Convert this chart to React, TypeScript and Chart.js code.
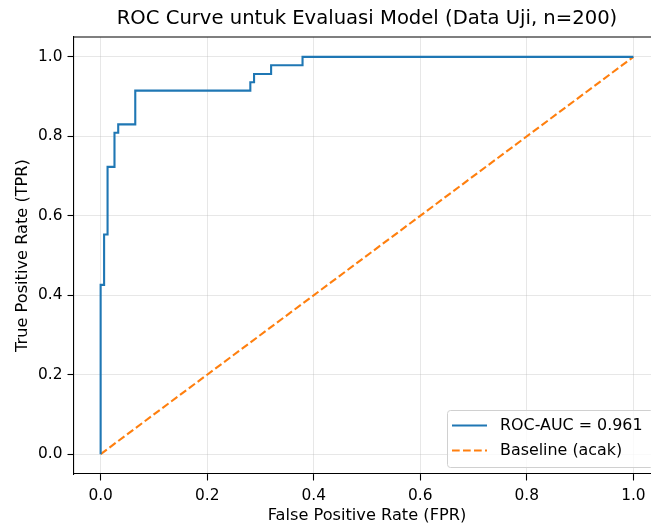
import React, { useEffect, useRef } from "react";
import { Chart, registerables } from "chart.js";

Chart.register(...registerables);

const rocFpr = [0, 0, 0.0065, 0.0065, 0.013, 0.013, 0.026, 0.026, 0.033, 0.033, 0.065, 0.065, 0.281, 0.281, 0.288, 0.288, 0.32, 0.32, 0.379, 0.379, 1.0];
const rocTpr = [0, 0.426, 0.426, 0.553, 0.553, 0.723, 0.723, 0.809, 0.809, 0.83, 0.83, 0.915, 0.915, 0.936, 0.936, 0.957, 0.957, 0.979, 0.979, 1.0, 1.0];
const baseX = [0, 1];
const baseY = [0, 1];
const tickValues = [0, 0.2, 0.4, 0.6, 0.8, 1.0];
const rocLabel = "ROC-AUC = 0.961";
const baseLabel = "Baseline (acak)";
const titleText = "ROC Curve untuk Evaluasi Model (Data Uji, n=200)";
const xTitle = "False Positive Rate (FPR)";
const yTitle = "True Positive Rate (TPR)";

const BLUE = "#1f77b4";
const ORANGE = "#ff7f0e";
const FONT = "'DejaVu Sans', sans-serif";
const TICK_SIZE = 15.4;
const LABEL_SIZE = 16.2;
const LEGEND_SIZE = 15.9;
const TITLE_SIZE = 19.6;

const framePlugin = {
  id: "frame",
  afterDatasetsDraw(chart: any) {
    const { ctx, chartArea: ca } = chart;
    ctx.save();
    ctx.strokeStyle = "#000";
    ctx.lineWidth = 1.1;
    ctx.beginPath();
    ctx.moveTo(ca.left, ca.top);
    ctx.lineTo(ca.right, ca.top);
    ctx.lineTo(ca.right, ca.bottom);
    ctx.stroke();
    ctx.restore();
  },
  afterDraw(chart: any) {
    const { ctx, chartArea: ca } = chart;
    const right = ca.right - 7;
    const bottom = ca.bottom - 7;
    const w = 206;
    const h = 57;
    const left = right - w;
    const top = bottom - h;
    ctx.save();
    ctx.fillStyle = "rgba(255,255,255,0.8)";
    ctx.strokeStyle = "#d0d0d0";
    ctx.lineWidth = 1;
    ctx.beginPath();
    (ctx as any).roundRect(left + 0.5, top + 0.5, w, h, 3);
    ctx.fill();
    ctx.stroke();
    const rows = [
      { y: top + 15.5, color: BLUE, dash: [] as number[], label: rocLabel },
      { y: top + 40.5, color: ORANGE, dash: [7.7, 3.3], label: baseLabel },
    ];
    ctx.font = `${LEGEND_SIZE}px ${FONT}`;
    ctx.textBaseline = "middle";
    ctx.textAlign = "left";
    for (const r of rows) {
      ctx.strokeStyle = r.color;
      ctx.lineWidth = 2.1;
      ctx.setLineDash(r.dash);
      ctx.beginPath();
      ctx.moveTo(left + 5, r.y);
      ctx.lineTo(left + 40, r.y);
      ctx.stroke();
      ctx.setLineDash([]);
      ctx.fillStyle = "#000";
      ctx.fillText(r.label, left + 53, r.y + 0.5);
    }
    ctx.restore();
  },
};

export default function App() {
  const ref = useRef<HTMLCanvasElement>(null);
  useEffect(() => {
    if (!ref.current) return;
    const fixTicks = (scale: any) => {
      scale.ticks = tickValues.map((v) => ({ value: v }));
    };
    const gridOpts = {
      color: "rgba(176,176,176,0.3)",
      lineWidth: 1,
      tickColor: "#000",
      tickLength: 6.5,
      tickWidth: 1.1,
    };
    const chart = new Chart(ref.current, {
      type: "scatter",
      data: {
        datasets: [
          {
            label: rocLabel,
            data: rocFpr.map((x, i) => ({ x, y: rocTpr[i] })),
            showLine: true,
            borderColor: BLUE,
            backgroundColor: BLUE,
            borderWidth: 2.1,
            pointRadius: 0,
            tension: 0,
          },
          {
            label: baseLabel,
            data: baseX.map((x, i) => ({ x, y: baseY[i] })),
            showLine: true,
            borderColor: ORANGE,
            backgroundColor: ORANGE,
            borderWidth: 2.1,
            borderDash: [7.7, 3.3],
            pointRadius: 0,
          },
        ],
      },
      options: {
        animation: false,
        responsive: false,
        layout: { padding: { left: 0, right: 40, top: 0, bottom: 0 } },
        plugins: {
          legend: { display: false },
          tooltip: { enabled: false },
          title: {
            display: true,
            text: titleText,
            fullSize: false,
            color: "#000",
            font: { family: FONT, size: TITLE_SIZE, weight: "normal", lineHeight: 1.2 },
            padding: { top: 7.4, bottom: 6.1 },
          },
        },
        scales: {
          x: {
            type: "linear",
            min: -0.05,
            max: 1.05,
            afterBuildTicks: fixTicks,
            afterFit: (s: any) => {
              s.height = 53;
            },
            grid: gridOpts,
            border: { display: true, color: "#000", width: 1.1 },
            ticks: {
              color: "#000",
              font: { family: FONT, size: TICK_SIZE },
              padding: 6,
              maxRotation: 0,
              callback: (v: any) => Number(v).toFixed(1),
            },
            title: {
              display: true,
              text: xTitle,
              color: "#000",
              font: { family: FONT, size: LABEL_SIZE, lineHeight: 1.2 },
              padding: { top: 0, bottom: 1.3 },
            },
          },
          y: {
            type: "linear",
            min: -0.05,
            max: 1.05,
            afterBuildTicks: fixTicks,
            afterFit: (s: any) => {
              s.width = 74;
            },
            grid: gridOpts,
            border: { display: true, color: "#000", width: 1.1 },
            ticks: {
              color: "#000",
              font: { family: FONT, size: TICK_SIZE },
              padding: 5,
              callback: (v: any) => Number(v).toFixed(1),
            },
            title: {
              display: true,
              text: yTitle,
              color: "#000",
              font: { family: FONT, size: LABEL_SIZE, lineHeight: 1.2 },
              padding: { top: 13.5, bottom: 0 },
            },
          },
        },
      },
      plugins: [framePlugin],
    });
    return () => chart.destroy();
  }, []);
  return (
    <div
      style={{
        position: "fixed",
        left: 0,
        top: 0,
        width: 651,
        height: 527,
        overflow: "hidden",
        background: "#fff",
      }}
    >
      <canvas ref={ref} width={700} height={527} style={{ width: 700, height: 527, display: "block" }} />
    </div>
  );
}
